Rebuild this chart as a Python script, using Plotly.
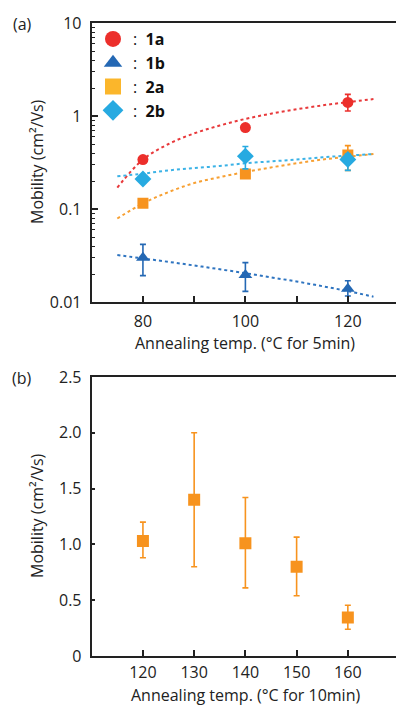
import plotly.graph_objects as go

# ---------------- data: panel (a) ----------------
temps_a = [80, 100, 120]
mob_1a = [0.34, 0.75, 1.40]
err_1a_up = [0.02, 0.05, 0.31]
err_1a_dn = [0.02, 0.05, 0.27]

mob_1b = [0.030, 0.0195, 0.0139]
err_1b_up = [0.0117, 0.007, 0.003]
err_1b_dn = [0.0108, 0.0065, 0.0023]

mob_2a = [0.115, 0.238, 0.38]
err_2a_up = [0.005, 0.01, 0.10]
err_2a_dn = [0.005, 0.01, 0.12]

mob_2b = [0.21, 0.37, 0.34]
err_2b_up = [0.01, 0.10, 0.05]
err_2b_dn = [0.01, 0.10, 0.08]

trend_x = [75, 80, 85, 90, 95, 100, 105, 110, 115, 120, 125]
trend_1a = [0.17, 0.34, 0.50, 0.65, 0.79, 0.93, 1.06, 1.18, 1.30, 1.41, 1.52]
trend_1b = [0.032, 0.0294, 0.027, 0.0247, 0.0225, 0.0204, 0.0184, 0.0166, 0.0148, 0.0131, 0.0114]
trend_2a = [0.079, 0.115, 0.152, 0.19, 0.22, 0.25, 0.28, 0.31, 0.34, 0.365, 0.39]
trend_2b = [0.225, 0.24, 0.26, 0.275, 0.29, 0.31, 0.325, 0.34, 0.36, 0.375, 0.39]

# ---------------- data: panel (b) ----------------
temps_b = [120, 130, 140, 150, 160]
mob_b = [1.03, 1.40, 1.01, 0.80, 0.345]
err_b_up = [0.17, 0.60, 0.41, 0.265, 0.11]
err_b_dn = [0.15, 0.60, 0.40, 0.26, 0.105]

# tick labels
xa_ticks = [80, 90, 100, 110, 120]
xa_text = ["80", "", "100", "", "120"]
ya_ticks = [0.01, 0.1, 1, 10]
ya_text = ["0.01", "0.1", "1", "10"]
xb_ticks = [120, 130, 140, 150, 160]
xb_text = ["120", "130", "140", "150", "160"]
yb_ticks = [0, 0.5, 1.0, 1.5, 2.0, 2.5]
yb_text = ["0", "0.5", "1.0", "1.5", "2.0", "2.5"]

RED = "#EC2F2B"
BLUE = "#2468B4"
ORANGE = "#F7931E"
YELLOW = "#FBB62B"
LBLUE = "#27AAE1"
AX = "#222222"
FONT = "Open Sans"

fig = go.Figure()

# trend lines
for ys, col in [(trend_1a, "#E8393B"), (trend_1b, "#2E74C0"), (trend_2a, "#F7A033"), (trend_2b, "#3BB2E6")]:
    fig.add_trace(go.Scatter(x=trend_x, y=ys, mode="lines", line=dict(color=col, width=2, dash="dot", shape="spline"),
                             showlegend=False, hoverinfo="skip", xaxis="x", yaxis="y"))

def series(x, y, up, dn, col, sym, size):
    return go.Scatter(x=x, y=y, mode="markers", showlegend=False, xaxis="x", yaxis="y",
                      marker=dict(color=col, symbol=sym, size=size, line=dict(width=0)),
                      error_y=dict(type="data", array=up, arrayminus=dn, color=col, thickness=1.6, width=3))

fig.add_trace(series(temps_a, mob_2a, err_2a_up, err_2a_dn, ORANGE, "square", 11))
fig.add_trace(series(temps_a, mob_2b, err_2b_up, err_2b_dn, LBLUE, "diamond", 13))
fig.add_trace(series(temps_a, mob_1b, err_1b_up, err_1b_dn, BLUE, "triangle-up", 12))
fig.add_trace(series(temps_a, mob_1a, err_1a_up, err_1a_dn, RED, "circle", 11))

# legend entries
for name, col, sym in [("1a", RED, "circle"), ("1b", BLUE, "triangle-up"), ("2a", YELLOW, "square"), ("2b", LBLUE, "diamond")]:
    fig.add_trace(go.Scatter(x=[None], y=[None], mode="markers", name=":  <b>%s</b>" % name,
                             marker=dict(color=col, symbol=sym, size=16), xaxis="x", yaxis="y"))

# panel b
fig.add_trace(go.Scatter(x=temps_b, y=mob_b, mode="markers", showlegend=False, xaxis="x2", yaxis="y2",
                         marker=dict(color=ORANGE, symbol="square", size=12),
                         error_y=dict(type="data", array=err_b_up, arrayminus=err_b_dn, color=ORANGE, thickness=1.6, width=3)))

W, H = 396, 706
left = 91.7 / W

axcommon = dict(showline=True, linecolor=AX, linewidth=2, ticks="inside", tickcolor=AX, tickwidth=1.5,
                showgrid=False, zeroline=False, automargin=False,
                tickfont=dict(family=FONT, size=16, color="#222"))

fig.update_layout(
    width=W, height=H, margin=dict(l=0, r=0, t=0, b=0, pad=0), autosize=False,
    plot_bgcolor="white", paper_bgcolor="white",
    font=dict(family=FONT, size=16, color="#222"),
    showlegend=True,
    legend=dict(x=93 / W, y=1 - 22 / H, xanchor="left", yanchor="top", bgcolor="rgba(0,0,0,0)",
                font=dict(family=FONT, size=16, color="#111"), itemsizing="trace", tracegroupgap=0),
    xaxis=dict(domain=[left, 1], range=[70, 129.4], anchor="y", mirror=True, tickmode="array",
               tickvals=xa_ticks, ticktext=xa_text, ticklen=6, ticklabelstandoff=4, **axcommon),
    yaxis=dict(domain=[1 - 302 / H, 1 - 23 / H], type="log", range=[-2, 1], anchor="x", tickmode="array",
               tickvals=ya_ticks, ticktext=ya_text, ticklen=6, ticklabelstandoff=5,
               minor=dict(ticks="inside", ticklen=3, tickcolor=AX, tickwidth=1, dtick="D1"), **axcommon),
    xaxis2=dict(domain=[left, 1], range=[110, 169.4], anchor="y2", mirror=True, tickmode="array",
                tickvals=xb_ticks, ticktext=xb_text, ticklen=6, ticklabelstandoff=1, **axcommon),
    yaxis2=dict(domain=[1 - 656 / H, 1 - 377 / H], range=[0, 2.5], anchor="x2", tickmode="array",
                tickvals=yb_ticks, ticktext=yb_text, ticklen=3, ticklabelstandoff=5, **axcommon),
)

ann = [
    dict(text="(a)", x=22 / W, y=1 - 24 / H),
    dict(text="(b)", x=22 / W, y=1 - 378 / H),
    dict(text="Annealing temp. (°C for 5min)", x=245 / W, y=1 - 343 / H),
    dict(text="Annealing temp. (°C for 10min)", x=245 / W, y=1 - 695 / H),
    dict(text="Mobility (cm²/Vs)", x=37 / W, y=1 - 162 / H, textangle=-90),
    dict(text="Mobility (cm²/Vs)", x=37 / W, y=1 - 516 / H, textangle=-90),
]
for a in ann:
    fig.add_annotation(xref="paper", yref="paper", showarrow=False, xanchor="center", yanchor="middle",
                       font=dict(family=FONT, size=16, color="#222"), **a)

fig.write_html("out.html", config={"displayModeBar": False},
               post_script="document.body.style.margin='0';document.body.style.padding='0';"
                           "document.body.style.overflow='hidden';document.documentElement.style.overflow='hidden';")
